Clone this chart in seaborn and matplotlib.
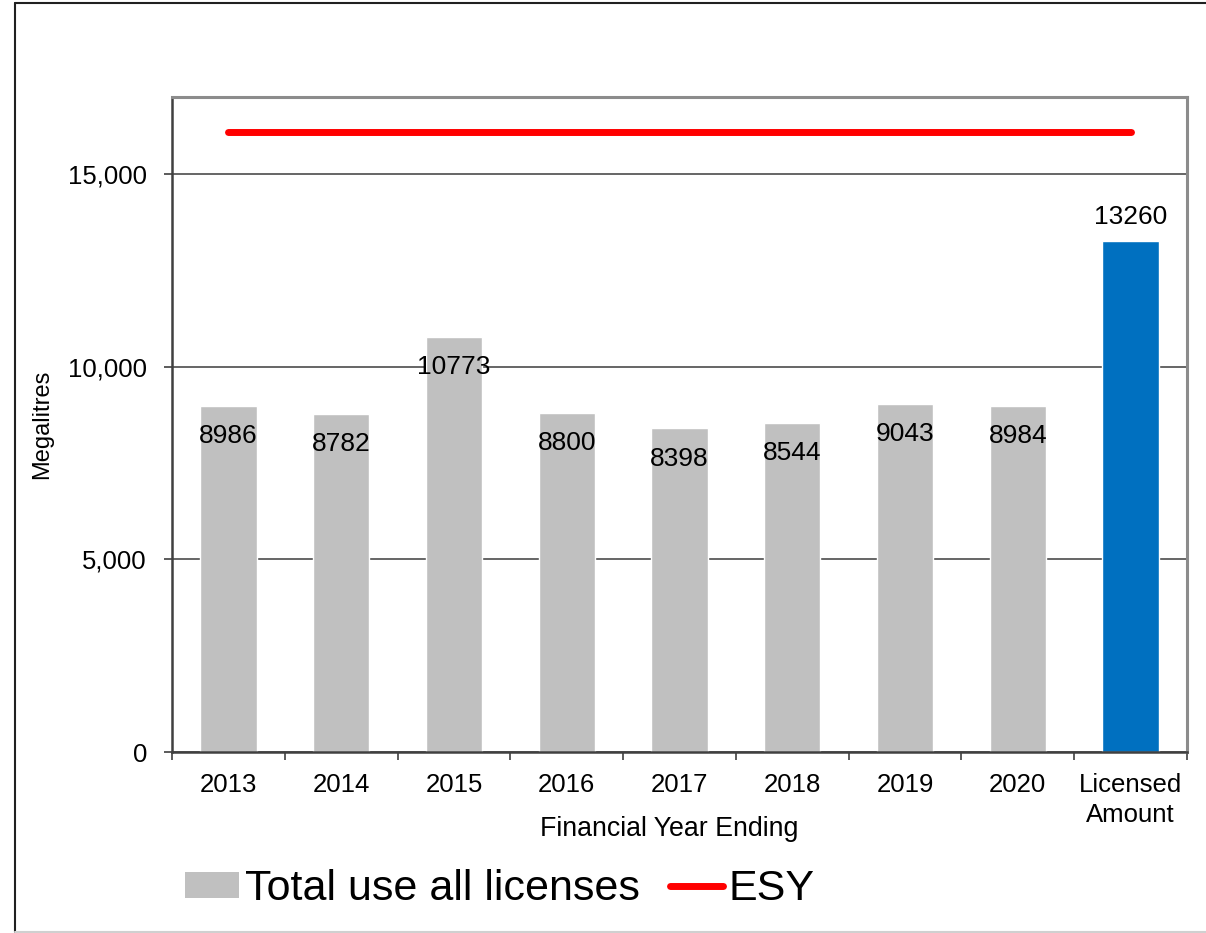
import numpy as np
import matplotlib
matplotlib.use("Agg")
import matplotlib.pyplot as plt
from matplotlib.lines import Line2D
from matplotlib.patches import Patch
from matplotlib.ticker import FuncFormatter, FixedLocator
import seaborn as sns

# Annual licensed water use (megalitres) and the licensed amount
categories = ["2013", "2014", "2015", "2016", "2017", "2018", "2019", "2020", "Licensed\nAmount"]
values = [8986, 8782, 10773, 8800, 8398, 8544, 9043, 8984, 13260]
esy_value = 16080
legend_labels = ["Total use all licenses", "ESY"]

GREY = "#C0C0C0"
BLUE = "#0070C0"
RED = "#FF0000"

sns.set_theme(style="white")
plt.rcParams["font.family"] = ["Liberation Sans", "DejaVu Sans"]
plt.rcParams["text.color"] = "black"

fig = plt.figure(figsize=(12.06, 9.33), dpi=100)
W, H = 1206, 933
ax = fig.add_axes([172 / W, 1 - 752 / H, (1187 - 172) / W, (752 - 97) / H])

colors = [GREY] * (len(categories) - 1) + [BLUE]
sns.barplot(x=categories, y=values, hue=categories, palette=colors, legend=False,
            width=0.5, saturation=1, ax=ax, zorder=2)

# Estimated sustainable yield as a flat line across the categories
xpos = np.arange(len(categories))
ax.plot(xpos, [esy_value] * len(categories), color=RED, lw=5, solid_capstyle="round", zorder=3)

ax.set_ylim(0, 17000)
ax.set_xlim(-0.5, len(categories) - 0.5)
ax.set_yticks([0, 5000, 10000, 15000])
ax.yaxis.set_major_formatter(FuncFormatter(lambda v, p: f"{int(v):,}"))
ax.yaxis.grid(True, color="#595959", lw=1.3, zorder=0)
ax.set_axisbelow(True)

# Category ticks sit on the boundaries between bars
ax.xaxis.set_major_locator(FixedLocator(np.arange(len(categories) + 1) - 0.5))
ax.set_xticklabels([])
ax.xaxis.set_minor_locator(FixedLocator(xpos))
ax.set_xticklabels(categories, minor=True, fontsize=18.5, color="black", linespacing=1.3)
ax.tick_params(axis="x", which="major", direction="out", length=6, width=1.2,
               color="#404040", bottom=True)
ax.tick_params(axis="x", which="minor", length=0, pad=15)
ax.tick_params(axis="y", direction="out", length=6, width=1.2, color="#404040",
               left=True, labelsize=18.5, labelcolor="black", pad=12)

for side in ["left", "bottom"]:
    ax.spines[side].set_color("#404040")
    ax.spines[side].set_linewidth(1.8)
for side in ["top", "right"]:
    ax.spines[side].set_color("#8C8C8C")
    ax.spines[side].set_linewidth(2.2)

ax.set_ylabel("Megalitres", fontsize=17, color="black")
ax.yaxis.set_label_coords((42 - 172) / (1187 - 172), 0.5)
ax.set_xlabel("Financial Year Ending", fontsize=19.3, color="black")
ax.xaxis.set_label_coords((669 - 172) / (1187 - 172), -(829 - 752) / (752 - 97))
ax.xaxis.label.set_va("center")
ax.yaxis.label.set_va("center")

# Value labels: inside the top of the usage bars, above the licensed bar
for i, v in enumerate(values):
    if i == len(values) - 1:
        ax.annotate(str(v), (i, v), xytext=(0, 17), textcoords="offset points",
                    ha="center", va="center", fontsize=19, color="black", zorder=4)
    else:
        ax.annotate(str(v), (i, v), xytext=(0, -22), textcoords="offset points",
                    ha="center", va="center", fontsize=19, color="black", zorder=4)

handles = [Patch(facecolor=GREY, edgecolor="none"),
           Line2D([0], [0], color=RED, lw=5, solid_capstyle="round")]
fig.legend(handles, legend_labels, loc="center left", bbox_to_anchor=(155 / W, 1 - 889 / H),
           ncol=2, frameon=False, fontsize=31, handlelength=1.25, handleheight=0.55,
           handletextpad=0.13, columnspacing=0.7, borderpad=0.2, labelcolor="black")

# Outer chart border
fig.add_artist(Line2D([15 / W, 15 / W], [1 - 932 / H, 1 - 3 / H], color="#202020", lw=1.5))
fig.add_artist(Line2D([15 / W, 1], [1 - 3 / H, 1 - 3 / H], color="#202020", lw=1.5))
fig.add_artist(Line2D([15 / W, 1], [1 - 932 / H, 1 - 932 / H], color="#D0D0D0", lw=1.5))

fig.savefig("out.png", dpi=100)
